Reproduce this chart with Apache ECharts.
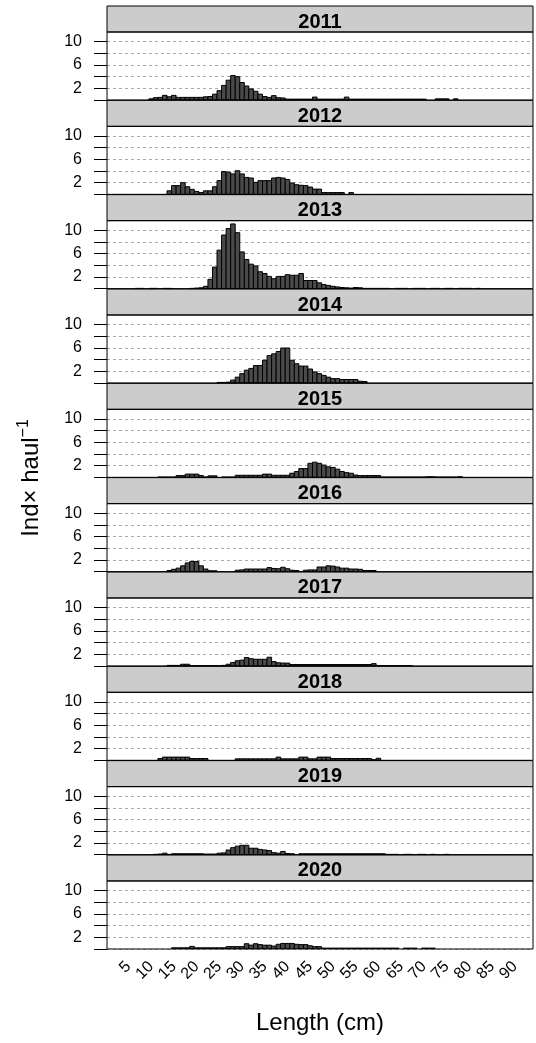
<!DOCTYPE html>
<html><head><meta charset="utf-8">
<script src="https://cdn.jsdelivr.net/npm/echarts@6/dist/echarts.min.js"></script>
<style>html,body{margin:0;padding:0;background:#fff}#c{width:536px;height:1043px}</style>
</head><body><div id="c"></div>
<script>
const years = ['2011','2012','2013','2014','2015','2016','2017','2018','2019','2020'];

// [length (cm), Ind x haul^-1]
const y2011 = [[10,0.2],[11,0.4],[12,0.45],[13,0.8],[14,0.55],[15,0.8],[16,0.45],[17,0.45],[18,0.45],[19,0.45],[20,0.45],[21,0.45],[22,0.55],[23,0.6],[24,1.0],[25,1.6],[26,2.5],[27,3.4],[28,4.2],[29,4.0],[30,3.0],[31,2.4],[32,1.9],[33,1.5],[34,1.0],[35,0.6],[36,0.45],[37,0.75],[38,0.4],[39,0.35],[40,0.15],[41,0.15],[42,0.15],[43,0.15],[44,0.15],[45,0.15],[46,0.5],[47,0.15],[48,0.15],[49,0.15],[50,0.15],[51,0.15],[52,0.15],[53,0.5],[54,0.15],[55,0.15],[56,0.15],[57,0.15],[58,0.15],[59,0.15],[60,0.15],[61,0.15],[62,0.15],[63,0.15],[64,0.15],[65,0.15],[66,0.15],[67,0.15],[68,0.15],[69,0.15],[70,0.15],[73,0.2],[74,0.2],[75,0.2],[77,0.2]];
const y2012 = [[14,0.6],[15,1.5],[16,1.5],[17,2.0],[18,1.3],[19,0.85],[20,0.5],[21,0.3],[22,0.6],[23,0.6],[24,1.3],[25,2.35],[26,3.9],[27,3.8],[28,3.5],[29,4.05],[30,3.5],[31,2.9],[32,2.8],[33,2.05],[34,2.35],[35,2.35],[36,2.35],[37,2.8],[38,2.9],[39,2.8],[40,2.55],[41,1.95],[42,1.65],[43,1.55],[44,1.5],[45,1.25],[46,0.9],[47,0.9],[48,0.3],[49,0.3],[50,0.3],[51,0.3],[52,0.3],[54,0.3]];
const y2013 = [[7,0.05],[8,0.05],[10,0.05],[11,0.05],[13,0.05],[14,0.05],[19,0.05],[20,0.1],[21,0.15],[22,0.4],[23,1.6],[24,3.7],[25,6.6],[26,9.2],[27,10.3],[28,11.1],[29,9.6],[30,6.3],[31,5.0],[32,4.2],[33,3.9],[34,2.9],[35,2.6],[36,2.1],[37,1.7],[38,2.1],[39,2.1],[40,2.4],[41,2.3],[42,2.3],[43,2.6],[44,1.4],[45,1.4],[46,1.4],[47,1.0],[48,0.7],[49,0.55],[50,0.4],[51,0.3],[52,0.2],[53,0.15],[54,0.1],[55,0.2],[56,0.15],[57,0.05],[58,0.05],[59,0.05],[60,0.05],[61,0.05],[62,0.05],[64,0.05],[65,0.05],[66,0.05],[68,0.05],[69,0.05],[70,0.05],[72,0.05],[73,0.05],[75,0.05],[76,0.05],[78,0.05],[79,0.05],[80,0.05],[82,0.05]];
const y2014 = [[25,0.1],[26,0.1],[27,0.15],[28,0.5],[29,1.0],[30,1.6],[31,2.2],[32,2.5],[33,3.0],[34,3.0],[35,3.9],[36,4.7],[37,5.0],[38,5.4],[39,6.0],[40,6.0],[41,3.9],[42,3.3],[43,2.9],[44,2.9],[45,2.4],[46,1.9],[47,1.6],[48,1.3],[49,1.0],[50,0.75],[51,0.75],[52,0.6],[53,0.6],[54,0.6],[55,0.6],[56,0.3],[57,0.25]];
const y2015 = [[12,0.05],[13,0.05],[14,0.05],[15,0.05],[16,0.3],[17,0.3],[18,0.55],[19,0.55],[20,0.55],[21,0.3],[22,0.05],[23,0.25],[24,0.25],[26,0.05],[27,0.05],[28,0.05],[29,0.35],[30,0.35],[31,0.35],[32,0.35],[33,0.35],[34,0.35],[35,0.55],[36,0.55],[37,0.35],[38,0.35],[39,0.35],[40,0.35],[41,0.7],[42,1.0],[43,1.5],[44,1.5],[45,2.4],[46,2.6],[47,2.4],[48,2.1],[49,1.8],[50,1.7],[51,1.4],[52,1.0],[53,0.8],[54,0.7],[55,0.4],[56,0.3],[57,0.3],[58,0.3],[59,0.3],[60,0.3],[61,0.05],[62,0.05],[63,0.05],[64,0.05],[65,0.05],[66,0.05],[67,0.05],[68,0.05],[69,0.05],[70,0.05],[71,0.1],[72,0.1],[73,0.05],[74,0.05],[75,0.05],[76,0.05],[77,0.05],[78,0.1]];
const y2016 = [[14,0.2],[15,0.4],[16,0.6],[17,1.0],[18,1.5],[19,1.75],[20,1.75],[21,1.0],[22,0.45],[23,0.15],[24,0.15],[29,0.25],[30,0.3],[31,0.45],[32,0.45],[33,0.45],[34,0.45],[35,0.45],[36,0.7],[37,0.55],[38,0.5],[39,0.75],[40,0.5],[41,0.25],[42,0.2],[44,0.25],[45,0.3],[46,0.3],[47,0.8],[48,0.8],[49,1.0],[50,0.95],[51,0.8],[52,0.6],[53,0.6],[54,0.45],[55,0.45],[56,0.4],[57,0.2],[58,0.2],[59,0.2]];
const y2017 = [[14,0.1],[15,0.1],[16,0.1],[17,0.3],[18,0.3],[19,0.05],[20,0.05],[21,0.05],[22,0.05],[23,0.05],[24,0.05],[25,0.05],[26,0.1],[27,0.3],[28,0.6],[29,0.9],[30,1.0],[31,1.45],[32,1.25],[33,1.15],[34,1.15],[35,1.15],[36,1.5],[37,0.75],[38,0.55],[39,0.5],[40,0.5],[41,0.25],[42,0.25],[43,0.25],[44,0.25],[45,0.25],[46,0.25],[47,0.25],[48,0.25],[49,0.25],[50,0.25],[51,0.25],[52,0.25],[53,0.25],[54,0.25],[55,0.25],[56,0.25],[57,0.25],[58,0.25],[59,0.4],[60,0.05],[61,0.05],[62,0.05],[63,0.05],[64,0.05],[65,0.05],[66,0.05],[67,0.05]];
const y2018 = [[12,0.3],[13,0.55],[14,0.55],[15,0.55],[16,0.55],[17,0.55],[18,0.55],[19,0.3],[20,0.3],[21,0.3],[22,0.3],[29,0.25],[30,0.25],[31,0.25],[32,0.25],[33,0.25],[34,0.25],[35,0.25],[36,0.25],[37,0.25],[38,0.55],[39,0.25],[40,0.25],[41,0.25],[42,0.25],[43,0.55],[44,0.55],[45,0.25],[46,0.25],[47,0.55],[48,0.55],[49,0.55],[50,0.3],[51,0.3],[52,0.3],[53,0.3],[54,0.3],[55,0.3],[56,0.3],[57,0.3],[58,0.3],[59,0.1],[60,0.35]];
const y2019 = [[11,0.05],[12,0.1],[13,0.25],[14,0.05],[15,0.15],[16,0.15],[17,0.15],[18,0.15],[19,0.15],[20,0.15],[21,0.15],[22,0.1],[23,0.1],[24,0.1],[25,0.25],[26,0.3],[27,0.8],[28,1.2],[29,1.45],[30,1.6],[31,1.6],[32,1.1],[33,1.1],[34,0.9],[35,0.8],[36,0.7],[37,0.35],[38,0.25],[39,0.55],[40,0.2],[41,0.15],[43,0.15],[44,0.15],[45,0.15],[46,0.15],[47,0.15],[48,0.15],[49,0.15],[50,0.15],[51,0.15],[52,0.15],[53,0.15],[54,0.15],[55,0.15],[56,0.15],[57,0.15],[58,0.15],[59,0.15],[60,0.15],[61,0.15],[62,0.05],[63,0.05],[64,0.05],[66,0.05],[67,0.05],[69,0.05],[70,0.05],[72,0.05],[75,0.05]];
const y2020 = [[15,0.2],[16,0.2],[17,0.2],[18,0.2],[19,0.45],[20,0.2],[21,0.2],[22,0.2],[23,0.2],[24,0.2],[25,0.2],[26,0.2],[27,0.4],[28,0.4],[29,0.4],[30,0.4],[31,0.9],[32,0.65],[33,0.9],[34,0.75],[35,0.65],[36,0.65],[37,0.5],[38,0.8],[39,0.95],[40,0.95],[41,0.95],[42,0.8],[43,0.75],[44,0.75],[45,0.55],[46,0.4],[47,0.4],[48,0.15],[49,0.15],[50,0.15],[51,0.15],[52,0.15],[53,0.15],[54,0.15],[55,0.15],[56,0.15],[57,0.15],[58,0.15],[59,0.15],[60,0.15],[61,0.15],[62,0.15],[63,0.15],[64,0.15],[66,0.15],[67,0.15],[68,0.15],[70,0.15],[71,0.15],[72,0.15]];

const yearData = [y2011,y2012,y2013,y2014,y2015,y2016,y2017,y2018,y2019,y2020];
const xTickLabels = [5,10,15,20,25,30,35,40,45,50,55,60,65,70,75,80,85,90];
const yTicks = [0,2,4,6,8,10];
const yTickLabels = [2,6,10];

const X_MIN = 0.3, X_MAX = 94.0, Y_MIN = 0, Y_MAX = 11.66;
const LEFT = 107, WIDTH = 426, TOP0 = 6, PITCH = 94.33, STRIP_H = 26, PLOT_H = 68;
const FONT = 'Liberation Sans, Arial, Helvetica, sans-serif';

const chart = echarts.init(document.getElementById('c'), null, {renderer: 'canvas'});
const grids = [], xAxes = [], yAxes = [], series = [], graphics = [];
const n = years.length;

years.forEach((yr, i) => {
  const stripTop = TOP0 + i * PITCH;
  const plotTop = stripTop + STRIP_H;
  grids.push({left: LEFT, width: WIDTH, top: plotTop, height: PLOT_H, containLabel: false});
  const last = i === n - 1;
  xAxes.push({
    type: 'value', gridIndex: i, min: X_MIN, max: X_MAX,
    axisLine: {show: false}, axisTick: {show: false}, splitLine: {show: false},
    axisLabel: last ? {show: true, customValues: xTickLabels, rotate: 45, fontSize: 16,
      fontFamily: FONT, color: '#000', margin: 15} : {show: false}
  });
  yAxes.push({
    type: 'value', gridIndex: i, min: Y_MIN, max: Y_MAX,
    axisLine: {show: false},
    axisTick: {show: true, length: 13, customValues: yTicks, lineStyle: {color: '#000', width: 1}},
    axisLabel: {show: true, customValues: yTickLabels, fontSize: 16, fontFamily: FONT,
      color: '#000', margin: 25, padding: [6, 0, 0, 0]},
    splitLine: {show: true, lineStyle: {color: '#aaaaaa', width: 1, type: [3, 3]}}
  });
  series.push({
    type: 'custom', xAxisIndex: i, yAxisIndex: i, data: yearData[i], clip: true,
    renderItem: function (params, api) {
      const x = api.value(0), v = api.value(1);
      const p0 = api.coord([x - 0.5, 0]);
      const p1 = api.coord([x + 0.5, v]);
      return {type: 'rect',
        shape: {x: p0[0], y: p1[1], width: p1[0] - p0[0], height: p0[1] - p1[1]},
        style: {fill: '#4a4a4a', stroke: '#000', lineWidth: 1}};
    }
  });
  graphics.push({type: 'rect', z: 50,
    shape: {x: LEFT, y: stripTop, width: WIDTH, height: STRIP_H},
    style: {fill: '#cccccc', stroke: '#000', lineWidth: 1}});
  graphics.push({type: 'text', z: 51,
    x: LEFT + WIDTH / 2, y: stripTop + STRIP_H,
    style: {text: yr, fontSize: 20, fontWeight: 'bold', fontFamily: FONT, fill: '#000',
      textAlign: 'center', textVerticalAlign: 'bottom'}});
  graphics.push({type: 'rect', z: 60,
    shape: {x: LEFT, y: plotTop, width: WIDTH, height: PLOT_H},
    style: {fill: null, stroke: '#000', lineWidth: 1}});
});

graphics.push({type: 'text', z: 60, x: 31, y: 478, rotation: Math.PI / 2,
  style: {text: '{a|Ind× haul}{b|−1}', textAlign: 'center', textVerticalAlign: 'middle',
    fill: '#000', fontFamily: FONT,
    rich: {a: {fontSize: 24, fontFamily: FONT, lineHeight: 30},
           b: {fontSize: 16, fontFamily: FONT, lineHeight: 16, verticalAlign: 'top'}}}});
graphics.push({type: 'text', z: 60, x: 320, y: 1023,
  style: {text: 'Length (cm)', fontSize: 24, fontFamily: FONT, fill: '#000',
    textAlign: 'center', textVerticalAlign: 'middle'}});

chart.setOption({
  animation: false,
  backgroundColor: '#ffffff',
  grid: grids, xAxis: xAxes, yAxis: yAxes, series: series,
  graphic: {elements: graphics}
});
</script></body></html>
